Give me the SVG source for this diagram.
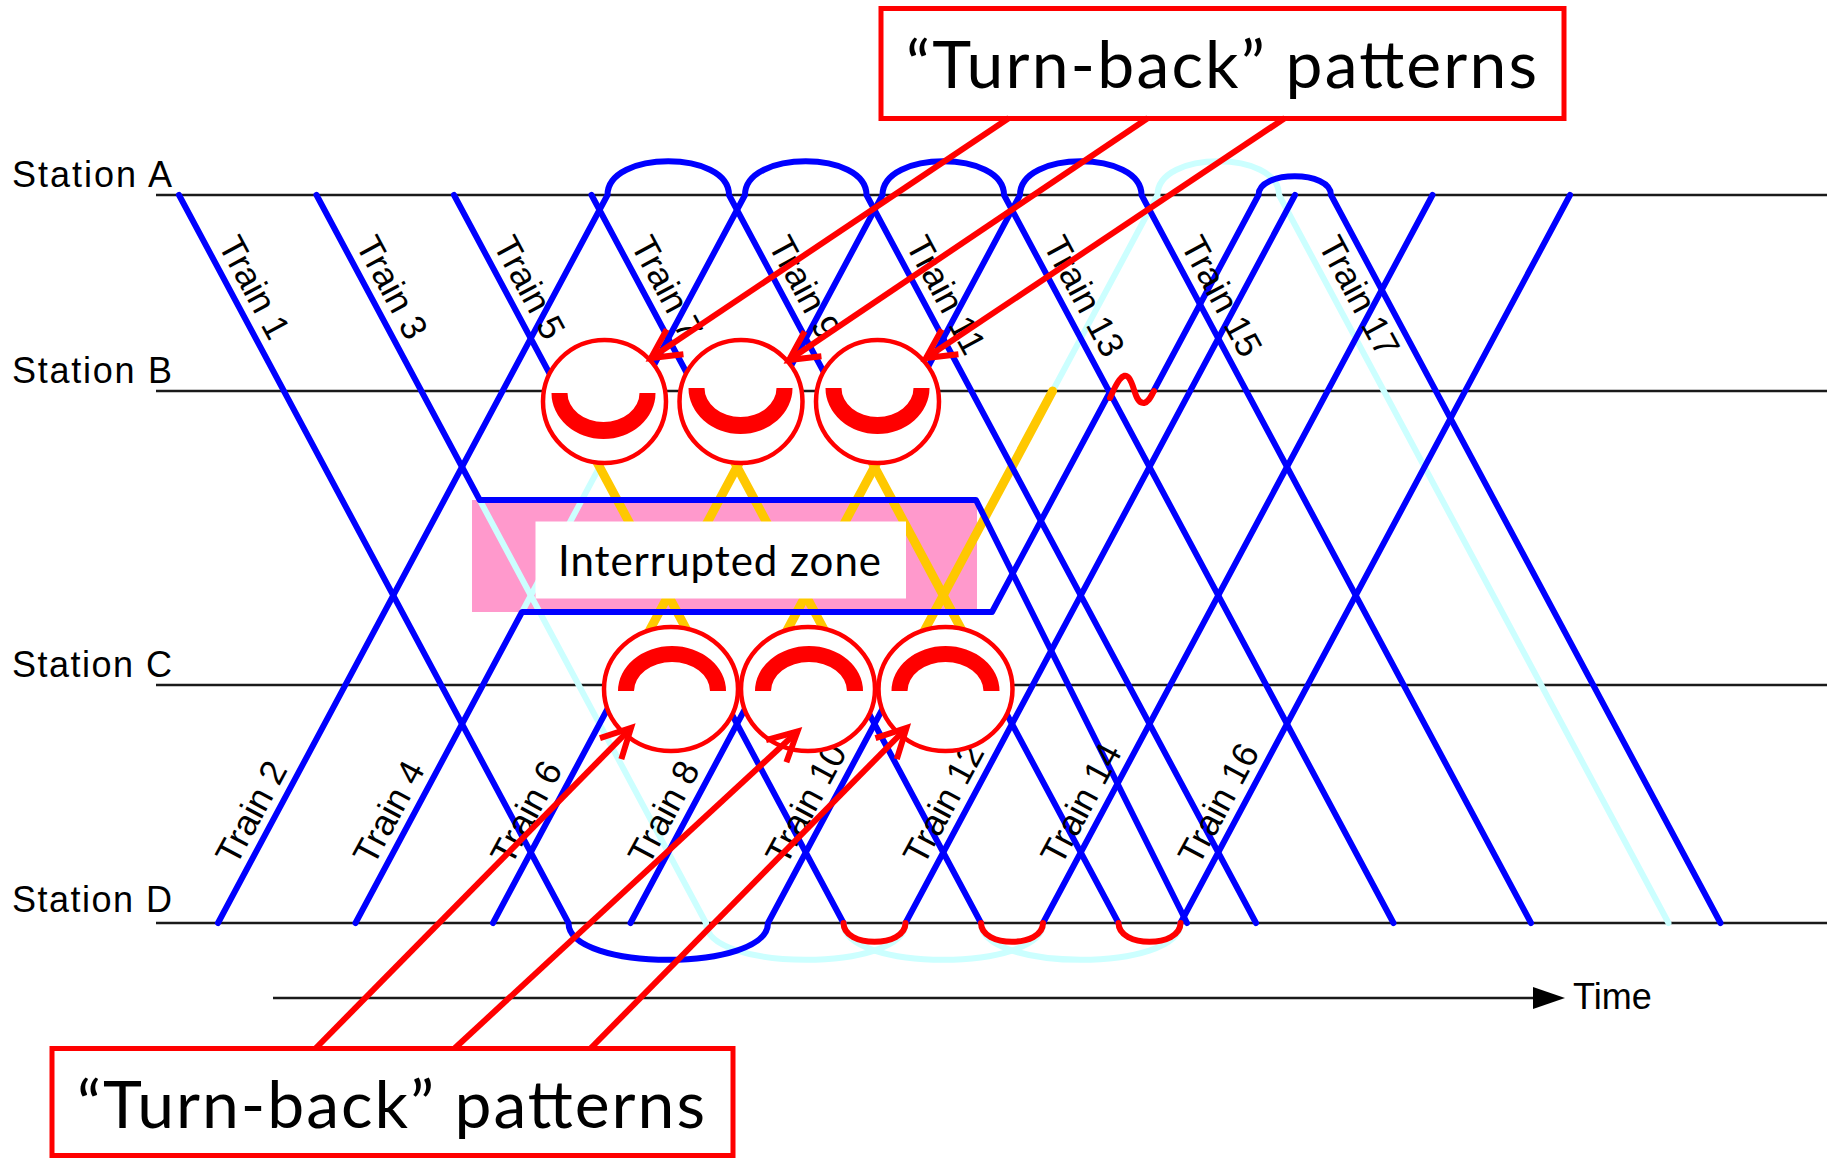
<svg xmlns="http://www.w3.org/2000/svg" width="1833" height="1158" viewBox="0 0 1833 1158">
  <style>
    .st{stroke:#1a1a1a;stroke-width:2.5;fill:none}
    .tr{fill:none;stroke:#0000ff;stroke-width:6;stroke-linecap:round;stroke-linejoin:round}
    .cy{fill:none;stroke:#ccffff;stroke-width:6;stroke-linecap:round;stroke-linejoin:round}
    .ye{fill:none;stroke:#ffc800;stroke-width:9;stroke-linecap:round}
    .rt{fill:none;stroke:#ff0000;stroke-width:6;stroke-linecap:round}
    .ring{fill:#ffffff;stroke:#ff0000;stroke-width:4.5}
    .half{fill:#ff0000}
    .lbl{font-family:'Liberation Sans',Arial,sans-serif;font-size:36px;fill:#000}
    .call{font-family:Lato,'Open Sans',sans-serif;font-size:66px;fill:#000}
    .box{fill:#ffffff;stroke:#ff0000;stroke-width:5}
    .ptr{fill:none;stroke:#ff0000;stroke-width:6;marker-end:url(#chev)}
  </style>
  <defs>
    <marker id="chev" markerUnits="userSpaceOnUse" orient="auto" markerWidth="1" markerHeight="1" refX="0" refY="0" style="overflow:visible">
      <path d="M-29,-15 L0,0 L-29,15" fill="none" stroke="#ff0000" stroke-width="6" stroke-linejoin="miter"/>
    </marker>
    <!-- half ring opening upward (turn-back at B) -->
    <path id="cupDown" d="M-52,0 A52,46 0 0 0 52,0 L36,0 A36,29 0 0 1 -36,0 Z"/>
    <!-- half ring opening downward (turn-back at C) -->
    <path id="cupUp" d="M-54,0 A54,45 0 0 1 54,0 L38,0 A38,29 0 0 0 -38,0 Z"/>
  </defs>

  <rect width="1833" height="1158" fill="#ffffff"/>

  <!-- station axes -->
  <g id="stations">
    <line class="st" x1="156" y1="195" x2="1827" y2="195"/>
    <line class="st" x1="156" y1="391" x2="1827" y2="391"/>
    <line class="st" x1="156" y1="685" x2="1827" y2="685"/>
    <line class="st" x1="156" y1="923" x2="1827" y2="923"/>
    <text class="lbl" x="12" y="187" textLength="160">Station A</text>
    <text class="lbl" x="12" y="383" textLength="160">Station B</text>
    <text class="lbl" x="12" y="677" textLength="160">Station C</text>
    <text class="lbl" x="12" y="912" textLength="160">Station D</text>
  </g>

  <!-- time axis -->
  <g id="time-axis">
    <line class="st" x1="273" y1="998" x2="1536" y2="998"/>
    <polygon points="1533,987 1565,998 1533,1009" fill="#000"/>
    <text class="lbl" x="1573" y="1009">Time</text>
  </g>

  <!-- interrupted zone background -->
  <rect id="zone-fill" x="472" y="500" width="505" height="112" fill="#ff99cc"/>

  <!-- original (cancelled) paths -->
  <g id="cancelled-paths">
    <path class="cy" d="M479.7,500 L706,923"/>
    <path class="cy" d="M706,923 C706,972 905.5,972 905.5,923"/>
    <path class="cy" d="M843.5,923 C843.5,972 1043,972 1043,923"/>
    <path class="cy" d="M981,923 C981,972 1180.5,972 1180.5,923"/>
    <path class="cy" d="M522,612 L640.1,391"/>
    <path class="cy" d="M1052.6,391 L1157.5,195 C1157.5,150 1279,150 1279,195 L1668.5,923"/>
  </g>

  <!-- paths through the interrupted section -->
  <g id="section-paths">
    <path class="ye" d="M558.9,391 L716.2,685"/>
    <path class="ye" d="M620.3,685 L777.6,391"/>
    <path class="ye" d="M696.4,391 L853.7,685"/>
    <path class="ye" d="M757.8,685 L915.1,391"/>
    <path class="ye" d="M833.9,391 L991.2,685"/>
    <path class="ye" d="M895.3,685 L1052.6,391"/>
  </g>

  <!-- zone label -->
  <g id="zone-label">
    <rect x="535.5" y="521.5" width="370.5" height="77" fill="#ffffff"/>
    <text class="call" style="font-size:42px" x="558" y="576" textLength="323">Interrupted zone</text>
  </g>

  <!-- train paths -->
  <g id="connectors">
    <path class="tr" d="M179,195 L568.5,923 C568.5,972 768,972 768,923 L895.3,685"/>
    <path class="tr" d="M218,923 L607.5,195 C607.5,150 729,150 729,195 L833.9,391"/>
    <path class="tr" d="M316.5,195 L479.7,500 L976,500 L1187,923"/>
    <path class="tr" d="M355.5,923 L522,612 L992,612 L1110.5,391"/>
    <path class="tr" d="M1153.6,391 L1258.5,195 C1258.5,170 1331,170 1331,195 L1720.5,923"/>
    <path class="tr" d="M454,195 L558.9,391"/>
    <path class="tr" d="M591.5,195 L696.4,391"/>
    <path class="tr" d="M640.1,391 L745,195 C745,150 866.5,150 866.5,195 L1256,923"/>
    <path class="tr" d="M777.6,391 L882.5,195 C882.5,150 1004,150 1004,195 L1393.5,923"/>
    <path class="tr" d="M915.1,391 L1020,195 C1020,150 1141.5,150 1141.5,195 L1531,923"/>
    <path class="tr" d="M493,923 L620.3,685"/>
    <path class="tr" d="M630.5,923 L757.8,685"/>
    <path class="tr" d="M716.2,685 L843.5,923"/>
    <path class="tr" d="M853.7,685 L981,923"/>
    <path class="tr" d="M991.2,685 L1118.5,923"/>
    <path class="tr" d="M905.5,923 L1295,195"/>
    <path class="tr" d="M1043,923 L1432.5,195"/>
    <path class="tr" d="M1180.5,923 L1570,195"/>
    <!-- turn-backs at D and the wait at B -->
    <path class="rt" d="M843.5,923 C843.5,948 905.5,948 905.5,923"/>
    <path class="rt" d="M981,923 C981,948 1043,948 1043,923"/>
    <path class="rt" d="M1118.5,923 C1118.5,948 1180.5,948 1180.5,923"/>
    <path class="rt" stroke-width="5" d="M1110,398 C1116,384 1123,370 1129,378 C1135,386 1135,404 1144,403 C1149,402 1151,396 1154,391"/>
  </g>

  <!-- train numbers -->
  <g id="train-labels" class="lbl">
    <text transform="translate(217.5,244.5) rotate(61.8)">Train 1</text>
    <text transform="translate(355,244.5) rotate(61.8)">Train 3</text>
    <text transform="translate(492.5,244.5) rotate(61.8)">Train 5</text>
    <text transform="translate(630,244.5) rotate(61.8)">Train 7</text>
    <text transform="translate(767.5,244.5) rotate(61.8)">Train 9</text>
    <text transform="translate(905,244.5) rotate(61.8)">Train 11</text>
    <text transform="translate(1042.5,244.5) rotate(61.8)">Train 13</text>
    <text transform="translate(1180,244.5) rotate(61.8)">Train 15</text>
    <text transform="translate(1317.5,244.5) rotate(61.8)">Train 17</text>
    <text transform="translate(236,867) rotate(-61.8)">Train 2</text>
    <text transform="translate(373.5,867) rotate(-61.8)">Train 4</text>
    <text transform="translate(511,867) rotate(-61.8)">Train 6</text>
    <text transform="translate(648.5,867) rotate(-61.8)">Train 8</text>
    <text transform="translate(786,867) rotate(-61.8)">Train 10</text>
    <text transform="translate(923.5,867) rotate(-61.8)">Train 12</text>
    <text transform="translate(1061,867) rotate(-61.8)">Train 14</text>
    <text transform="translate(1198.5,867) rotate(-61.8)">Train 16</text>
  </g>

  <!-- turn-back markers at Station B -->
  <g id="turnback-b1">
    <circle class="ring" cx="604.5" cy="401.5" r="61.5"/>
    <use href="#cupDown" class="half" x="603.5" y="393"/>
  </g>
  <g id="turnback-b2">
    <circle class="ring" cx="741" cy="401.5" r="61.5"/>
    <use href="#cupDown" class="half" x="740.5" y="388"/>
  </g>
  <g id="turnback-b3">
    <circle class="ring" cx="877.5" cy="401.5" r="61.5"/>
    <use href="#cupDown" class="half" x="877.5" y="388"/>
  </g>

  <!-- turn-back markers at Station C -->
  <g id="turnback-c1">
    <ellipse class="ring" cx="671" cy="689" rx="67" ry="62"/>
    <use href="#cupUp" class="half" x="672" y="691"/>
  </g>
  <g id="turnback-c2">
    <ellipse class="ring" cx="808" cy="689" rx="67" ry="62"/>
    <use href="#cupUp" class="half" x="809" y="691"/>
  </g>
  <g id="turnback-c3">
    <ellipse class="ring" cx="945.5" cy="689" rx="67" ry="62"/>
    <use href="#cupUp" class="half" x="945.5" y="691"/>
  </g>

  <!-- callouts -->
  <g id="callout-top">
    <rect class="box" x="881" y="8.5" width="683" height="110"/>
    <text class="call" x="906" y="88" textLength="631">“Turn-back” patterns</text>
  </g>
  <g id="callout-bottom">
    <rect class="box" x="52" y="1048.5" width="681" height="107"/>
    <text class="call" x="77" y="1128" textLength="628">“Turn-back” patterns</text>
  </g>

  <g id="callout-pointers">
    <path class="ptr" d="M1009,118 L651,358"/>
    <path class="ptr" d="M1148,118 L789,360"/>
    <path class="ptr" d="M1285,118 L926,358"/>
    <path class="ptr" d="M316,1048 L631,728"/>
    <path class="ptr" d="M455,1048 L797.5,731.5"/>
    <path class="ptr" d="M591,1048 L906.5,728"/>
  </g>
</svg>
